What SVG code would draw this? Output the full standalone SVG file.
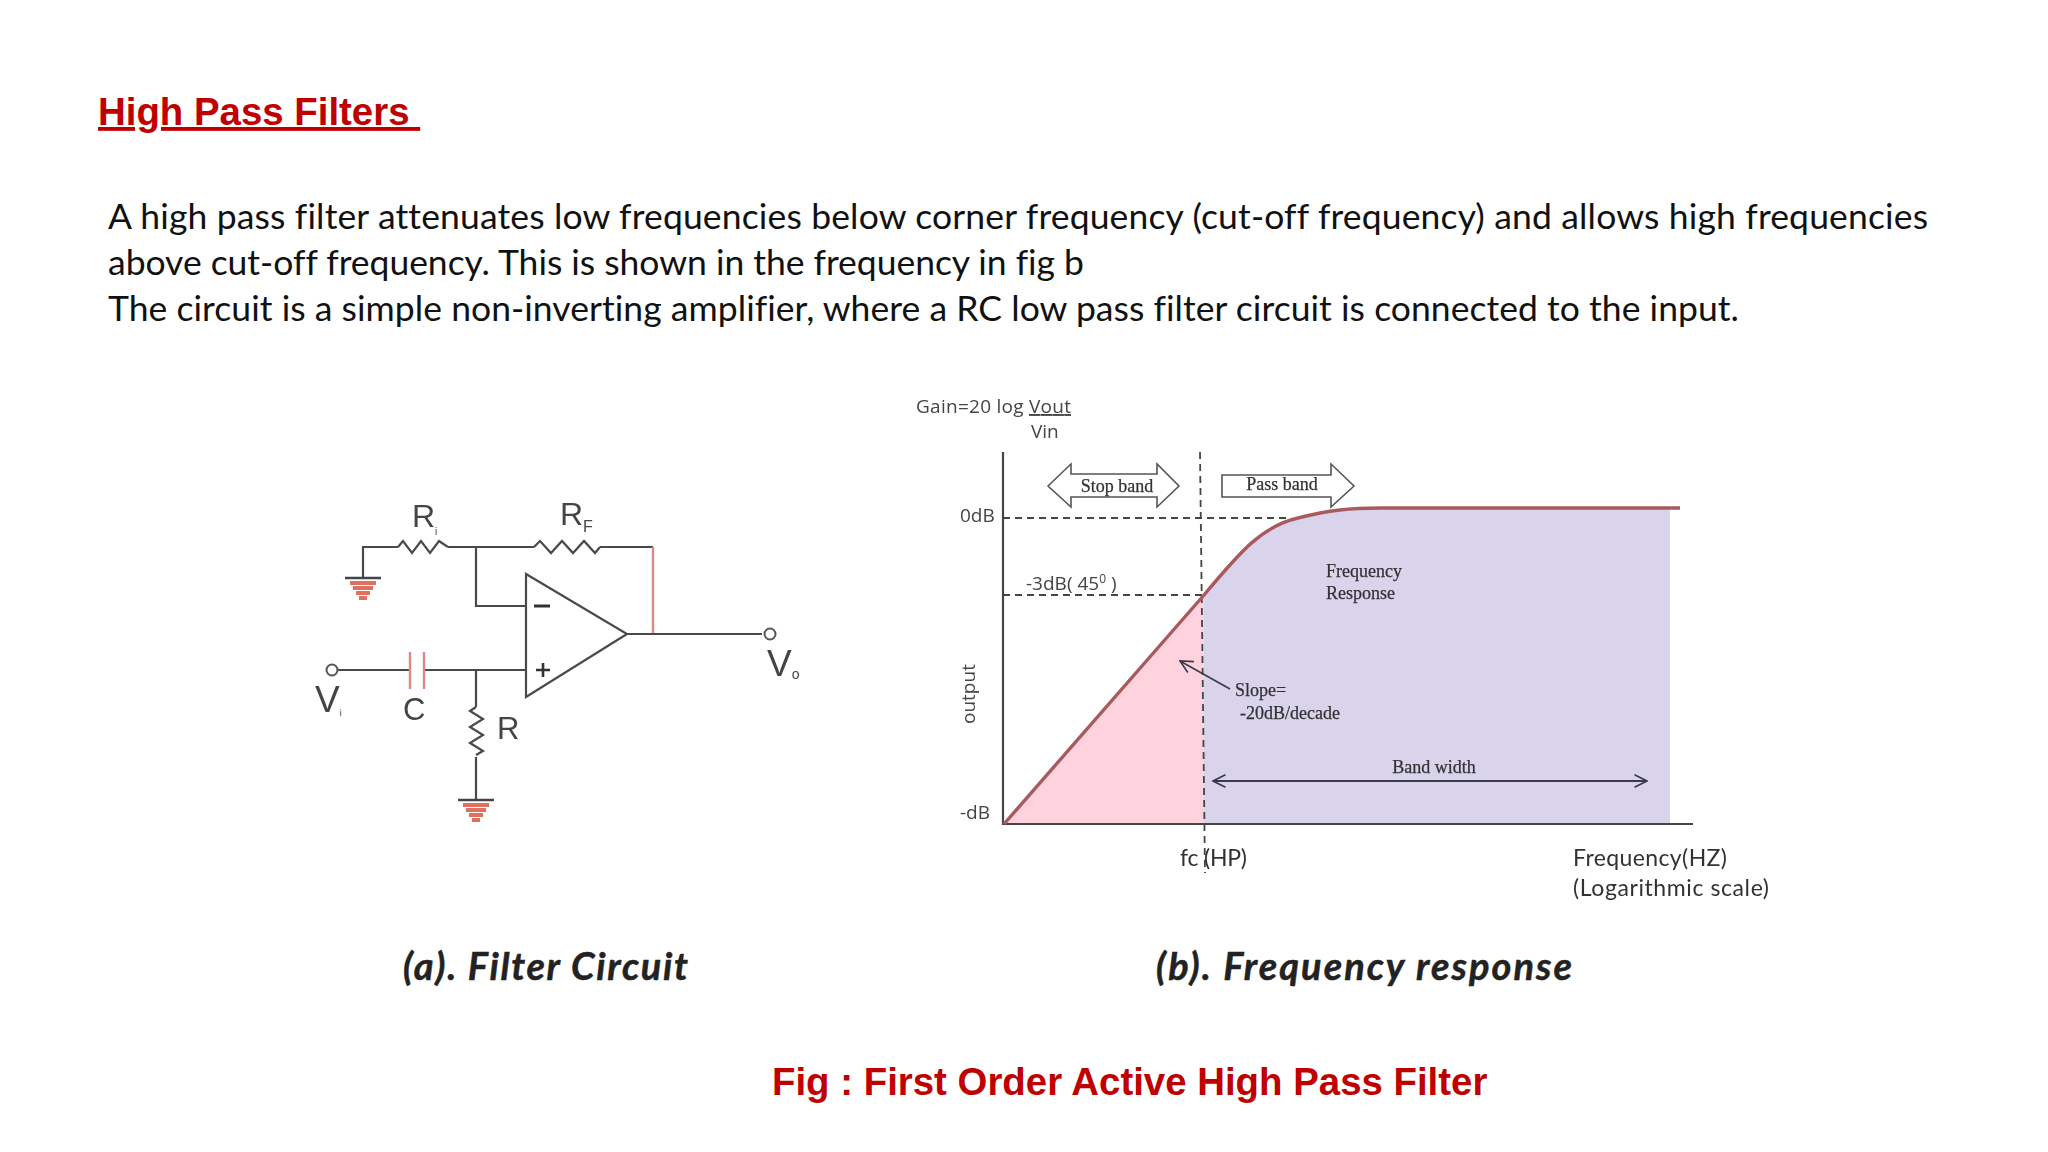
<svg xmlns="http://www.w3.org/2000/svg" width="2048" height="1152" viewBox="0 0 2048 1152">
<defs>
<filter id="soft" x="-5%" y="-5%" width="110%" height="110%"><feGaussianBlur stdDeviation="0.55"/></filter>
<marker id="open" viewBox="0 0 12 12" refX="11" refY="6" markerWidth="15" markerHeight="15" markerUnits="userSpaceOnUse" orient="auto-start-reverse"><path d="M1 1L11 6L1 11" fill="none" stroke="#3a3a4a" stroke-width="1.3"/></marker>
<g id="gnd"><path d="M-18 0H18" stroke="#444" stroke-width="2.4"/><path d="M-13 5H13M-10 10H10M-7 15H7M-4 20H4" stroke="#e0705f" stroke-width="4"/></g>
</defs>
<style>
.t{font-family:"Lato","Open Sans",sans-serif;fill:#111;font-variant-ligatures:none}
.body{font-size:35.5px}
.w{fill:none;stroke:#4a4a4a;stroke-width:2.2}
.r{fill:none;stroke:#d98a86;stroke-width:2.4}
.lab{font-family:"Liberation Sans",Arial,sans-serif;fill:#444}
.sm{font-family:"Open Sans",sans-serif;fill:#444;font-size:19px}
.big{font-family:"Lato",sans-serif;fill:#333;font-size:23px}
.se{font-family:"Liberation Serif",serif;fill:#333;font-size:18px;stroke:#333;stroke-width:.25}
.cap{font-family:"Lato",sans-serif;font-weight:700;font-style:italic;font-size:38px;fill:#222;stroke:#222;stroke-width:.5}
.d{fill:none;stroke:#444;stroke-width:1.8;stroke-dasharray:7 5}
</style>
<rect width="2048" height="1152" fill="#fff"/>

<g id="title"><text x="98" y="125" font-family="Liberation Sans,Arial,sans-serif" font-weight="700" font-size="38.4" fill="#c00000" text-decoration="underline" xml:space="preserve">High Pass Filters </text></g>
<g id="body">
<text class="t body" x="108" y="229" textLength="1820" lengthAdjust="spacing">A high pass filter attenuates low frequencies below corner frequency (cut-off frequency) and allows high frequencies</text>
<text class="t body" x="108" y="275" textLength="976" lengthAdjust="spacing">above cut-off frequency. This is shown in the frequency in fig b</text>
<text class="t body" x="108" y="321" textLength="1631" lengthAdjust="spacing">The circuit is a simple non-inverting amplifier, where a RC low pass filter circuit is connected to the input.</text>
</g>

<g filter="url(#soft)">
<g id="connectors-a">
<path class="w" d="M363 578V547H398M448 547H534M600 547H653"/>
<path class="w" d="M476 547V606H526"/>
<path class="r" d="M653 547V634"/>
<path class="w" d="M627 634H762"/>
<path class="w" d="M338 670H410M424 670H526"/>
<path class="w" d="M476 670V707M476 757V800"/>
</g>
<g id="opamp"><path class="w" d="M526 574V697L627 634Z" fill="#fff"/><path d="M534 606H550" stroke="#333" stroke-width="3"/><path d="M536 670H550M543 663V677" stroke="#333" stroke-width="2.6"/></g>
<g id="r1"><path class="w" d="M398 547l5-6 9 12 9-12 9 12 9-12 9 6"/><text class="lab" x="412" y="527" font-size="32">R<tspan font-size="10" dy="8">i</tspan></text></g>
<g id="rf"><path class="w" d="M534 547l6-6 11 12 11-12 11 12 11-12 11 12 5-6"/><text class="lab" x="560" y="525" font-size="32">R<tspan font-size="16" dy="7">F</tspan></text></g>
<g id="c"><path class="r" d="M410 652V689M424 652V689"/><text class="lab" x="403" y="720" font-size="31">C</text></g>
<g id="r"><path class="w" d="M476 707l-6 4 13 8-13 8 13 8-13 8 13 8-7 4"/><text class="lab" x="497" y="739" font-size="31">R</text></g>
<g id="gnd1"><use href="#gnd" x="363" y="578"/></g>
<g id="gnd2"><use href="#gnd" x="476" y="800"/></g>
<g id="vi"><circle cx="332" cy="670" r="5.5" fill="#fff" stroke="#555" stroke-width="2"/><text class="lab" x="315" y="712" font-size="37">V<tspan font-size="9" dy="4">i</tspan></text></g>
<g id="vo"><circle cx="770" cy="634" r="5.5" fill="#fff" stroke="#555" stroke-width="2"/><text class="lab" x="767" y="676" font-size="37">V<tspan font-size="14" dy="3">o</tspan></text></g>

<g id="band-fill">
<path d="M1004 824L1204 595V824Z" fill="#ffd3de"/>
<path d="M1204 595C1240 552 1262 526 1298 518C1330 510 1350 508 1380 508H1670V824H1204Z" fill="#d9d3ec"/>
</g>
<g id="connectors-b">
<path d="M1003 452V824H1693" fill="none" stroke="#444" stroke-width="2.2"/>
<path class="d" d="M1003 518H1290M1003 595H1204"/>
<path class="d" d="M1200 452L1205 873"/>
<path d="M1004 824L1204 595C1240 552 1262 526 1298 518C1330 510 1350 508 1380 508H1680" fill="none" stroke="#a85a5e" stroke-width="3.4"/>
<path d="M1230 689L1180 661" fill="none" stroke="#3a3a4a" stroke-width="1.6" marker-end="url(#open)"/>
<path d="M1213 781H1647" fill="none" stroke="#3a3a4a" stroke-width="1.8" marker-start="url(#open)" marker-end="url(#open)"/>
</g>
<g id="stop-band"><path d="M1048 486L1071 464V474H1157V464L1179 486L1157 507V497H1071V507Z" fill="#fff" stroke="#555" stroke-width="1.6"/><text class="se" x="1117" y="492" text-anchor="middle">Stop band</text></g>
<g id="pass-band"><path d="M1222 475H1331V464L1354 486L1331 507V497H1222Z" fill="#fff" stroke="#555" stroke-width="1.6"/><text class="se" x="1282" y="490" text-anchor="middle">Pass band</text></g>
<g id="axis-labels">
<text class="sm" x="916" y="413" textLength="155">Gain=20 log <tspan text-decoration="underline">Vout</tspan></text>
<text class="sm" x="1031" y="438">Vin</text>
<text class="sm" x="960" y="522">0dB</text>
<text class="sm" x="1026" y="590" font-size="20">-3dB( 45<tspan font-size="12" dy="-7">0</tspan><tspan dy="7"> )</tspan></text>
<text class="sm" x="960" y="819">-dB</text>
<text class="sm" transform="translate(975 724) rotate(-90)">output</text>
<text class="big" x="1180" y="866" textLength="67">fc (HP)</text>
<text class="big" x="1573" y="866" textLength="154">Frequency(HZ)</text>
<text class="big" x="1573" y="896" textLength="196">(Logarithmic scale)</text>
</g>
<g id="annotations">
<text class="se" x="1326" y="577">Frequency</text>
<text class="se" x="1326" y="599">Response</text>
<text class="se" x="1235" y="696">Slope=</text>
<text class="se" x="1240" y="719">-20dB/decade</text>
<text class="se" x="1434" y="773" text-anchor="middle">Band width</text>
</g>
</g>

<g id="caption-a"><text class="cap" x="403" y="980" textLength="285">(a). Filter Circuit</text></g>
<g id="caption-b"><text class="cap" x="1156" y="980" textLength="416">(b). Frequency response</text></g>
<g id="fig-caption"><text x="772" y="1095" font-family="Liberation Sans,Arial,sans-serif" font-weight="700" font-size="38.4" fill="#c00000">Fig : First Order Active High Pass Filter</text></g>
</svg>
